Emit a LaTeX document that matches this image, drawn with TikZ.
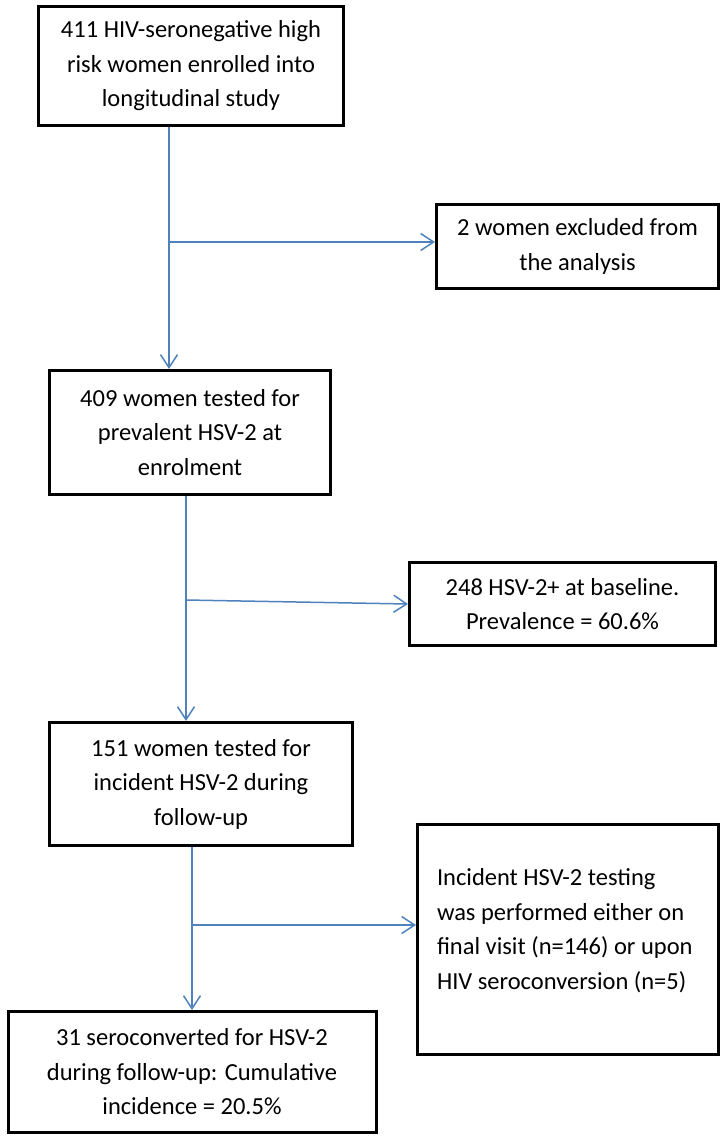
\documentclass[tikz,border=0pt]{standalone}
\usepackage{fontspec}
\setmainfont{Carlito}
\usetikzlibrary{arrows.meta}
\definecolor{lineblue}{RGB}{79,129,189}
\begin{document}
\begin{tikzpicture}
            [x = 1pt, y = -1pt,
             box/.style = {draw, line width = 3pt, align = center, inner sep = 0pt, font = \fontsize{24.5}{34.5}\selectfont},
             flow/.style = {draw = lineblue, line width = 1.5pt, -{Straight Barb[length = 13pt, width = 17pt]}}]
            \useasboundingbox (0,0) rectangle (726,1141);
            \node[box, minimum width = 305pt, minimum height = 119pt] (1) at (191,66) {411 HIV-seronegative high\\risk women enrolled into\\longitudinal study};
            \node[box, minimum width = 282pt, minimum height = 84pt] (2) at (577.5,246.5) {2 women excluded from\\the analysis};
            \node[box, minimum width = 281pt, minimum height = 124pt] (3) at (190,432.5) {409 women tested for\\prevalent HSV-2 at\\enrolment};
            \node[box, minimum width = 306pt, minimum height = 83pt] (4) at (562.5,604) {248 HSV-2+ at baseline.\\Prevalence = 60.6\%};
            \node[box, minimum width = 303pt, minimum height = 123pt] (5) at (201,784) {151 women tested for\\incident HSV-2 during\\follow-up};
            \node[box, minimum width = 301pt, text height = 164.5pt, text depth = 65.5pt] (6) at (568,939.5)
                {\parbox[b]{262pt}{\raggedright Incident HSV-2 testing\\was performed either on\\final visit (n=146) or upon\\HIV seroconversion (n=5)}};
            \node[box, minimum width = 368pt, minimum height = 121pt] (7) at (192,1072) {31 seroconverted for HSV-2\\during follow-up: Cumulative\\incidence = 20.5\%};
            \coordinate (j1) at (169,242);
            \coordinate (j2) at (186,600);
            \coordinate (j3) at (192,925);
            \draw[flow] (1.south -| j1) -- (3.north -| j1);
            \draw[flow] (j1) -- (2.west |- j1);
            \draw[flow] (3.south -| j2) -- (5.north -| j2);
            \draw[flow] (j2) -- (4.west);
            \draw[flow] (5.south -| j3) -- (7.north -| j3);
            \draw[flow] (j3) -- (6.west |- j3);
        \end{tikzpicture}
\end{document}
